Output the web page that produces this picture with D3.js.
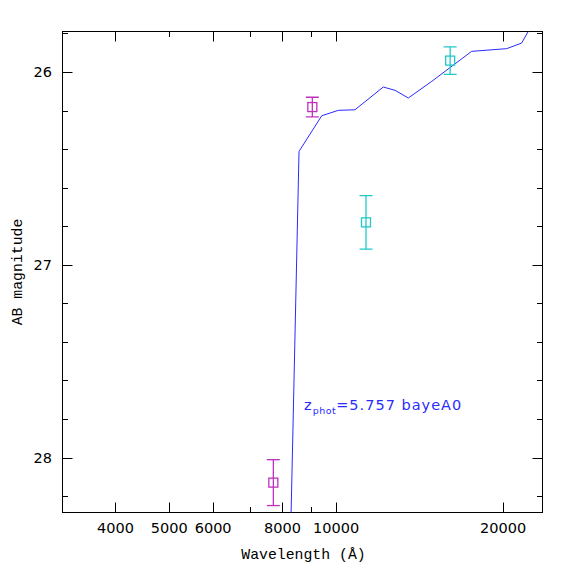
<!DOCTYPE html>
<html>
<head>
<meta charset="utf-8">
<script src="https://cdn.jsdelivr.net/npm/d3@7"></script>
<style>
  body { margin: 0; background: #fff; }
  svg text { fill: #000; }
</style>
</head>
<body>
<svg id="sed" width="574" height="574"></svg>
<script>
// model SED (wavelength in A, AB mag)
const modelWave = [8190, 8570, 9417, 10088, 10812, 12159, 12764, 13490, 14863, 17546, 20292, 21598, 22800]
const modelMag  = [29.0, 26.412, 26.227, 26.199, 26.196, 26.078, 26.095, 26.135, 26.049, 25.893, 25.879, 25.850, 25.73]

// observed photometry
const magentaWave = [7703, 9057]
const magentaMag  = [28.13, 26.182]
const magentaErr  = [0.119, 0.051]

const cyanWave = [11317, 16050]
const cyanMag  = [26.78, 25.941]
const cyanErr  = [0.139, 0.071]

const xTicksMajor = [4000, 5000, 6000, 8000, 10000, 20000]
const xTicksMinor = [7000, 9000]
const xTopMajor   = [4000, 6000, 8000, 10000, 20000]
const xTopMinor   = [5000, 7000, 9000]
const yTicksMajor = [26, 27, 28]
const yTicksMinor = [25.8, 26.2, 26.4, 26.6, 26.8, 27.2, 27.4, 27.6, 27.8, 28.2]

const label = "=5.757 bayeA0"

/* ------------------------- SCALES ------------------------- */

const svg = d3.select("#sed")
const L = 62.5, R = 542.5, T = 31.5, B = 512.5

const x = d3.scaleLog().domain([3210, 23550]).range([L, R])
const y = d3.scaleLinear().domain([25.79, 28.285]).range([T, B])

svg.append("clipPath").attr("id", "clip")
    .append("rect").attr("x", L).attr("y", T).attr("width", R - L).attr("height", B - T)

/* ------------------------- FRAME + TICKS ------------------------- */

const frame = svg.append("g").attr("stroke", "#000").attr("stroke-width", 1)

frame.append("rect")
    .attr("x", L).attr("y", T).attr("width", R - L).attr("height", B - T)
    .attr("fill", "none")

function xt(vals, yy, len) {
    frame.selectAll(null).data(vals).enter().append("line")
        .attr("x1", d => Math.round(x(d)) + 0.5).attr("x2", d => Math.round(x(d)) + 0.5)
        .attr("y1", yy).attr("y2", yy + len)
}
function yt(vals, xx, len) {
    frame.selectAll(null).data(vals).enter().append("line")
        .attr("y1", d => Math.round(y(d)) + 0.5).attr("y2", d => Math.round(y(d)) + 0.5)
        .attr("x1", xx).attr("x2", xx + len)
}
xt(xTicksMajor, B, -10)
xt(xTicksMinor, B, -5.5)
xt(xTopMajor, T, 10)
xt(xTopMinor, T, 5.5)
yt(yTicksMajor, L, 10)
yt(yTicksMinor, L, 5.5)
yt(yTicksMajor, R, -10)
yt(yTicksMinor, R, -5.5)

svg.append("g").selectAll("text").data(xTicksMajor).enter().append("text")
    .attr("x", d => x(d)).attr("y", 533)
    .attr("text-anchor", "middle")
    .style("font", "14.5px 'DejaVu Sans'")
    .text(d => d)

svg.append("g").selectAll("text").data(yTicksMajor).enter().append("text")
    .attr("x", 52).attr("y", d => y(d) + 5)
    .attr("text-anchor", "end")
    .style("font", "14.5px 'DejaVu Sans'")
    .text(d => d)

svg.append("text")
    .attr("x", (L + R) / 2 + 1).attr("y", 559)
    .attr("text-anchor", "middle")
    .style("font", "14.8px 'Liberation Mono'")
    .text("Wavelength (\u00c5)")

svg.append("text")
    .attr("transform", "translate(22," + ((T + B) / 2) + ") rotate(-90)")
    .attr("text-anchor", "middle")
    .style("font", "14.8px 'Liberation Mono'")
    .text("AB magnitude")

/* ------------------------- MODEL ------------------------- */

const plot = svg.append("g").attr("clip-path", "url(#clip)")

plot.append("path")
    .datum(d3.zip(modelWave, modelMag))
    .attr("fill", "none")
    .attr("stroke", "#2a2aff")
    .attr("stroke-width", 1)
    .attr("d", d3.line().x(d => x(d[0])).y(d => y(d[1])))

/* ------------------------- PHOTOMETRY ------------------------- */

function points(wave, mag, err, col) {
    let g = plot.append("g").attr("stroke", col).attr("stroke-width", 1.3).attr("fill", "none")
    wave.forEach(function (w, i) {
        let cx = x(w), cy = y(mag[i])
        let y0 = y(mag[i] - err[i]), y1 = y(mag[i] + err[i])
        g.append("line").attr("x1", cx).attr("x2", cx).attr("y1", y0).attr("y2", y1)
        g.append("line").attr("x1", cx - 6.5).attr("x2", cx + 6.5).attr("y1", y0).attr("y2", y0)
        g.append("line").attr("x1", cx - 6.5).attr("x2", cx + 6.5).attr("y1", y1).attr("y2", y1)
        g.append("rect").attr("x", cx - 4.5).attr("y", cy - 4.5).attr("width", 9).attr("height", 9)
    })
}
points(magentaWave, magentaMag, magentaErr, "#c030c0")
points(cyanWave, cyanMag, cyanErr, "#20c8c8")

/* ------------------------- ANNOTATION ------------------------- */

const ann = svg.append("text")
    .attr("x", 304).attr("y", 410)
    .style("font", "14.5px 'DejaVu Sans'")
    .style("letter-spacing", "1px")
    .style("fill", "#2a2aff")
ann.append("tspan").text("z")
ann.append("tspan").attr("dy", 4).style("font-size", "9.5px").style("letter-spacing", "0.5px").text("phot")
ann.append("tspan").attr("dy", -4).text(label)
</script>
</body>
</html>
